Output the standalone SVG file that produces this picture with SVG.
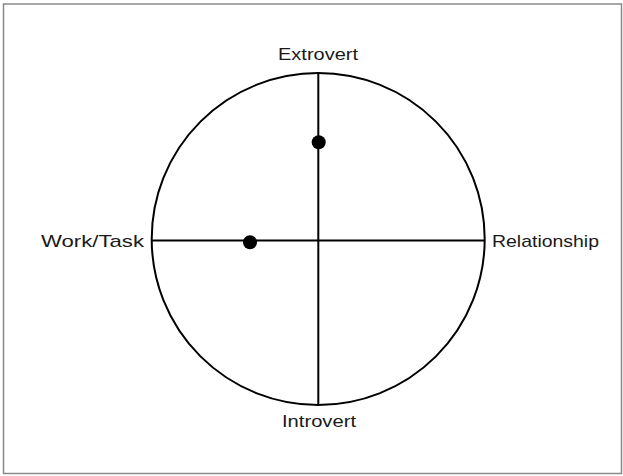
<svg xmlns="http://www.w3.org/2000/svg" width="623" height="476" viewBox="0 0 623 476">
<style>
.ln{stroke:#000;stroke-width:2;fill:none}
.lbl{font-family:"Liberation Sans","Open Sans",sans-serif;font-size:17px;fill:#1a1a1a}
.dot{fill:#000}
</style>
<rect x="0" y="0" width="623" height="476" fill="#fff"/>
<rect x="3.5" y="4" width="618" height="469.5" fill="none" stroke="#8a8a8a" stroke-width="1.5"/>
<g id="circle"><ellipse class="ln" cx="318.2" cy="239" rx="166.5" ry="166"/></g>
<g id="connectors">
<line class="ln" x1="318.3" y1="73" x2="318.3" y2="405"/>
<line class="ln" x1="151.7" y1="240.5" x2="484.7" y2="240.5"/>
</g>
<g id="extrovert"><text class="lbl" x="278" y="60" textLength="80" lengthAdjust="spacingAndGlyphs">Extrovert</text></g>
<g id="introvert"><text class="lbl" x="282" y="427" textLength="74" lengthAdjust="spacingAndGlyphs">Introvert</text></g>
<g id="worktask"><text class="lbl" x="41" y="247" textLength="103" lengthAdjust="spacingAndGlyphs">Work/Task</text></g>
<g id="relationship"><text class="lbl" x="492" y="247" textLength="107" lengthAdjust="spacingAndGlyphs">Relationship</text></g>
<g id="dot1"><circle class="dot" cx="318.7" cy="142.3" r="7"/></g>
<g id="dot2"><circle class="dot" cx="250" cy="242.3" r="7"/></g>
</svg>
